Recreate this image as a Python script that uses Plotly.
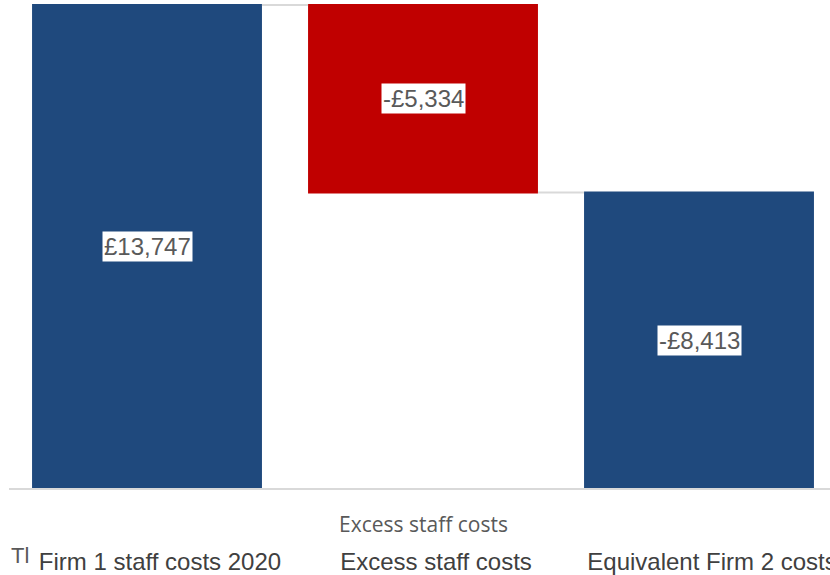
import plotly.graph_objects as go

# Waterfall data: starting cost, excess removed, resulting equivalent cost
categories = ["Firm 1 staff costs 2020", "Excess staff costs", "Equivalent Firm 2 costs"]
measures = ["absolute", "relative", "total"]
values = [13747, -5334, 0]
label_texts = ["£13,747", "-£5,334", "-£8,413"]

BLUE = "#1f497d"
RED = "#c00000"
GRID = "#d9d9d9"

fig = go.Figure()
fig.add_trace(go.Waterfall(
    x=categories,
    y=values,
    measure=measures,
    increasing=dict(marker=dict(color=BLUE)),
    decreasing=dict(marker=dict(color=RED)),
    totals=dict(marker=dict(color=BLUE)),
    connector=dict(line=dict(color=GRID, width=2)),
    textinfo="none",
    hoverinfo="skip",
    showlegend=False,
))

# Running totals for label placement at the middle of each bar
bottoms, tops = [], []
running = 0
for m, v in zip(measures, values):
    if m == "absolute":
        lo, hi = 0, v
        running = v
    elif m == "relative":
        lo, hi = sorted([running, running + v])
        running += v
    else:
        lo, hi = 0, running
    bottoms.append(lo)
    tops.append(hi)

for cat, lo, hi, txt in zip(categories, bottoms, tops, label_texts):
    fig.add_annotation(
        x=cat, y=(lo + hi) / 2, xref="x", yref="y",
        text=txt, showarrow=False,
        font=dict(family="Liberation Sans, Arial, sans-serif", size=24, color="#595959"),
        bgcolor="white", borderpad=1,
    )

# Axis title drawn between the baseline and the category labels
fig.add_annotation(
    x=categories[1], xref="x", y=-0.074, yref="paper", yanchor="middle",
    text="Excess staff costs", showarrow=False,
    font=dict(family="Open Sans, sans-serif", size=21, color="#595959"),
)

fig.add_annotation(
    x=0, xref="paper", xanchor="left", y=-0.139, yref="paper", yanchor="middle",
    text="Tl", showarrow=False,
    font=dict(family="Liberation Sans, Arial, sans-serif", size=22, color="#595959"),
)

ymax = tops[0] * 488 / 483

fig.update_layout(
    width=830, height=575,
    margin=dict(l=9, r=0, t=0, b=87),
    paper_bgcolor="white", plot_bgcolor="white",
    waterfallgap=0.167,
    xaxis=dict(
        type="category",
        range=[-0.5, 2.4746],
        automargin=False,
        showline=True, linecolor=GRID, linewidth=2,
        showgrid=False, ticks="",
        tickfont=dict(family="Liberation Sans, Arial, sans-serif", size=24, color="#404040"),
        ticklabelstandoff=51,
        ticklabelshift=13,
    ),
    yaxis=dict(range=[0, ymax], visible=False, showgrid=False, zeroline=False),
)

fig.write_html("out.html")
